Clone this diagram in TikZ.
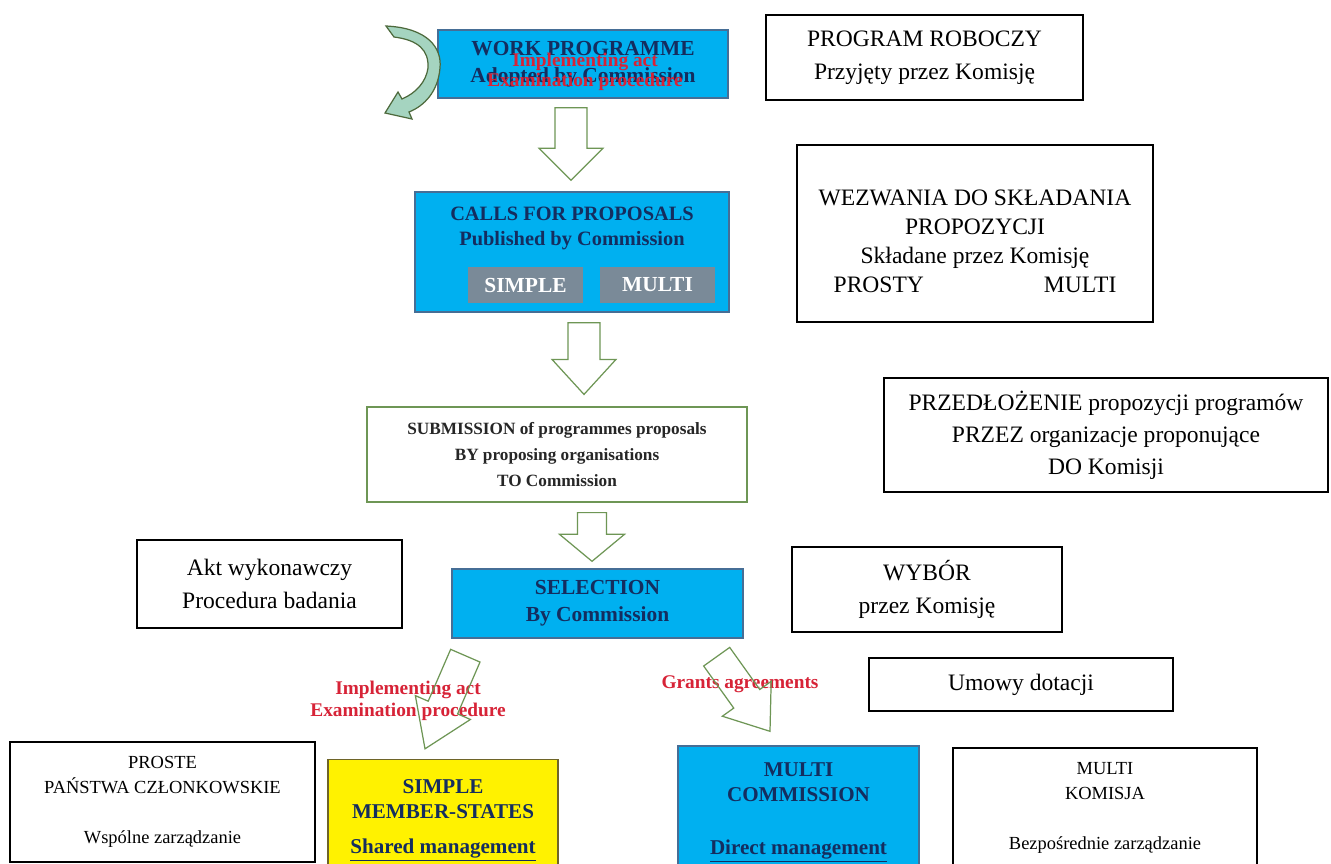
\documentclass[tikz,border=0pt]{standalone}
\usepackage{fontspec}
\setmainfont{Liberation Serif}
\usetikzlibrary{calc, positioning}
\definecolor{boxblue}{RGB}{0,176,240}
\definecolor{boxedge}{RGB}{70,110,150}
\definecolor{navy}{RGB}{20,45,95}
\definecolor{tagred}{RGB}{215,35,55}
\definecolor{arrowgreen}{RGB}{110,150,85}
\definecolor{callgrey}{RGB}{122,138,152}
\definecolor{curvefill}{RGB}{165,212,192}
\definecolor{yellowedge}{RGB}{110,100,40}
\tikzset{
  bluebox/.style={
    rectangle, draw=boxedge, line width=0.8pt, fill=boxblue, align=center,
    text=navy, inner sep=0pt, font={\fontsize{12.2}{15.3}\selectfont\bfseries}
  },
  bigbox/.style={
    bluebox, font={\fontsize{12}{14.2}\selectfont\bfseries}
  },
  tagbox/.style={
    rectangle, fill=callgrey, text=white, minimum width=2.3cm, minimum height=0.72cm,
    inner sep=0pt, font={\fontsize{12.2}{14.2}\selectfont\bfseries}
  },
  subbox/.style={
    rectangle, draw=arrowgreen, line width=0.7pt, fill=white, align=center,
    text=black!85, inner sep=0pt, font={\fontsize{9.8}{14.7}\selectfont\bfseries}
  },
  plnote/.style={
    rectangle, draw=black, line width=1pt, fill=white, align=center,
    inner sep=0pt, font={\fontsize{13.4}{18.7}\selectfont}
  },
  plsmall/.style={
    plnote, font={\fontsize{10.5}{14.2}\selectfont}
  },
  redtag/.style={
    text=tagred, align=center, inner sep=0pt, font={\fontsize{11}{12.5}\selectfont\bfseries}
  },
  hollowarrow/.style={
    draw=arrowgreen, line width=0.7pt, line join=miter
  },
  curvearrow/.style={
    draw=arrowgreen!70!black, fill=curvefill, line width=0.7pt
  }
}
% #1 tail, #2 tip, #3 shaft half width, #4 head half width, #5 head length
\newcommand{\blockarrow}[5]{%
  \coordinate (hb) at ($(#2)!#5!(#1)$);
  \draw[hollowarrow] ($(#1)!#3!90:(#2)$) -- ($(hb)!#3!90:(#2)$) -- ($(hb)!#4!90:(#2)$)
    -- (#2) -- ($(hb)!#4!-90:(#2)$) -- ($(hb)!#3!-90:(#2)$) -- ($(#1)!#3!-90:(#2)$) -- cycle;
}

\begin{document}
\begin{tikzpicture}[x=0.02cm, y=-0.02cm]
  \clip (0,0) rectangle (1331,863);
  \fill[white] (0,0) rectangle (1331,863);

  % Flow
  \node[bluebox, minimum width=5.8cm, minimum height=1.36cm] (work) at (583,64) {WORK PROGRAMME\\Adopted by Commission};
  \node[redtag, font={\fontsize{11}{11.3}\selectfont\bfseries}] (workred) at ($(work.center)+(2,8)$) {Implementing act\\Examination procedure};

  \node[bluebox, minimum width=6.28cm, minimum height=2.4cm] (calls) at (572,252) {};
  \node[bluebox, draw=none, fill=none, font={\fontsize{11.6}{14.2}\selectfont\bfseries}] (callstitle) at (572,228) {CALLS FOR PROPOSALS\\Published by Commission};
  \node[tagbox] (simple) at (525.5,285) {SIMPLE};
  \node[tagbox] (multi) at (657.5,285) {MULTI};

  \node[subbox, minimum width=7.6cm, minimum height=1.9cm] (sub) at (557,454.5) {SUBMISSION of programmes proposals\\BY proposing organisations\\TO Commission};

  \node[bluebox, minimum width=5.82cm, minimum height=1.38cm] (sel) at (597.5,603.5) {SELECTION\\By Commission};

  \node[bigbox, fill=yellow, draw=yellowedge, minimum width=4.6cm, minimum height=2.44cm] (shared) at (443,820.5) {SIMPLE\\MEMBER-STATES\\[6pt]\underline{Shared management}};
  \node[bigbox, minimum width=4.82cm, minimum height=2.66cm] (direct) at (798.5,812.5) {MULTI\\COMMISSION\\[16pt]\underline{Direct management}};

  % Polish notes
  \node[plnote, minimum width=6.34cm, minimum height=1.7cm] (plwork) at (924.5,57.5) {PROGRAM ROBOCZY\\Przyjęty przez Komisję};
  \node[plnote, minimum width=7.12cm, minimum height=3.54cm, font={\fontsize{13.4}{16.5}\selectfont}] (plcalls) at (975,233.5) {\rule{0pt}{18pt}WEZWANIA DO SKŁADANIA\\PROPOZYCJI\\Składane przez Komisję\\PROSTY\hspace{2.4cm}MULTI};
  \node[plnote, minimum width=8.88cm, minimum height=2.28cm, font={\fontsize{13.4}{18.1}\selectfont}] (plsub) at (1106,435) {PRZEDŁOŻENIE propozycji programów\\PRZEZ organizacje proponujące\\DO Komisji};
  \node[plnote, minimum width=5.3cm, minimum height=1.76cm] (plact) at (269.5,584) {Akt wykonawczy\\Procedura badania};
  \node[plnote, minimum width=5.4cm, minimum height=1.7cm] (plsel) at (927,589.5) {WYBÓR\\przez Komisję};
  \node[plnote, minimum width=6.08cm, minimum height=1.06cm] (plgrant) at (1021,684.5) {Umowy dotacji};
  \node[plsmall, minimum width=6.1cm, minimum height=2.4cm] (plshared) at (162.5,802) {PROSTE\\PAŃSTWA CZŁONKOWSKIE\\[14.2pt]Wspólne zarządzanie};
  \node[plsmall, minimum width=6.08cm, minimum height=2.38cm] (pldirect) at (1105,807.5) {MULTI\\KOMISJA\\[14.2pt]Bezpośrednie zarządzanie};

  % Red labels
  \node[redtag] (actlabel) at (408,701) {Implementing act\\Examination procedure};
  \node[redtag] (grantlabel) at (740,684) {Grants agreements};

  % Block arrows
  \coordinate (a1tail) at ($(work.south)+(-12,9)$);
  \coordinate (a1tip) at ($(calls.north)+(-1,-11)$);
  \blockarrow{a1tail}{a1tip}{0.32cm}{0.64cm}{0.64cm}
  \coordinate (a2tail) at ($(calls.south)+(12,10)$);
  \coordinate (a2tip) at ($(sub.north)+(27,-12)$);
  \blockarrow{a2tail}{a2tip}{0.32cm}{0.64cm}{0.7cm}
  \coordinate (a3tail) at ($(sub.south)+(35,10)$);
  \coordinate (a3tip) at ($(sel.north)+(-5.5,-7)$);
  \blockarrow{a3tail}{a3tip}{0.29cm}{0.65cm}{0.54cm}
  \coordinate (a4tail) at ($(sel.south west)+(14,17)$);
  \coordinate (a4tip) at ($(shared.north)+(-18,-10)$);
  \blockarrow{a4tail}{a4tip}{0.32cm}{0.6cm}{0.9cm}
  \coordinate (a5tail) at ($(sel.south east)+(-27,18)$);
  \coordinate (a5tip) at ($(direct.north)+(-28.5,-14)$);
  \blockarrow{a5tail}{a5tip}{0.32cm}{0.6cm}{0.8cm}

  % Curved arrow
  \draw[curvearrow] (386,26) .. controls (428,28) and (442,48) .. (440,68)
    .. controls (438,92) and (424,106) .. (409,112) -- (412,119) -- (385,113)
    -- (398,92) -- (402,99) .. controls (416,93) and (426,82) .. (428,68)
    .. controls (429,50) and (418,40) .. (394,37) -- cycle;
\end{tikzpicture}
\end{document}
